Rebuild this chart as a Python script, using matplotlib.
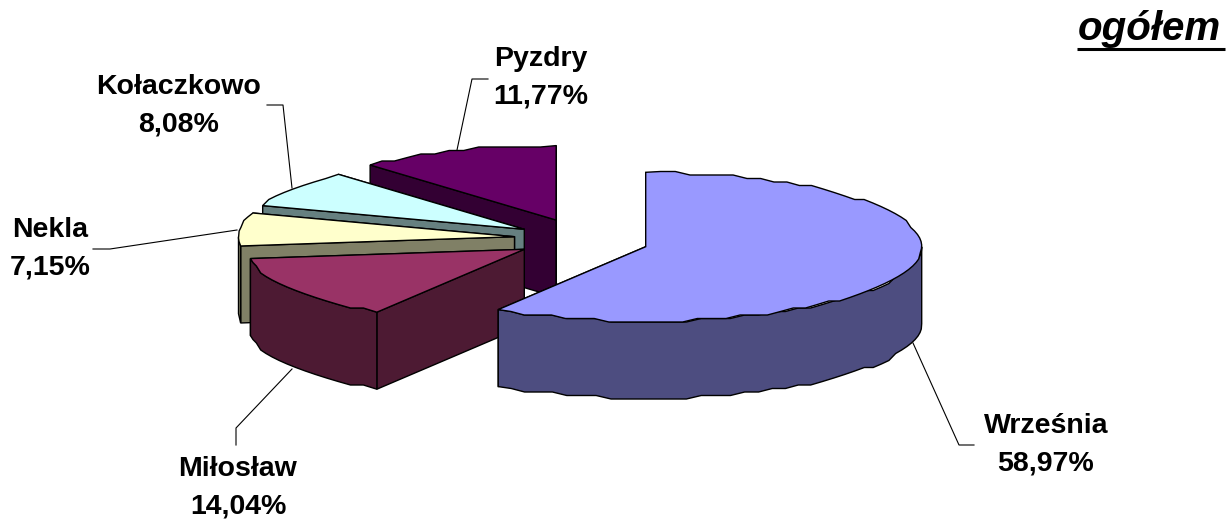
import numpy as np
import matplotlib.pyplot as plt
from matplotlib.patches import Polygon

plt.rcParams['font.family'] = ['Liberation Sans', 'DejaVu Sans']

# Data
names = ["Września", "Miłosław", "Nekla", "Kołaczkowo", "Pyzdry"]
shares = [58.97, 14.04, 7.15, 8.08, 11.77]
labels = ["58,97%", "14,04%", "7,15%", "8,08%", "11,77%"]
top_colors = ["#9999FF", "#993366", "#FFFFCC", "#CCFFFF", "#660066"]
side_colors = ["#4D4D80", "#4D1A33", "#808066", "#668080", "#330033"]

# Layout in pixels of the picture
apex_x = [645.7, 524.3, 514.5, 524.3, 556]
apex_y = [246.7, 249.3, 236.7, 229.3, 220]
rx, ry, depth = 276, 74.4, 77
label_x = [1046, 238, 50, 179, 541]
label_y = [444.5, 487.5, 248.5, 105.5, 78]
leaders = [[(913, 343), (959, 445), (974, 445)],
           [(292, 369), (236, 428), (236, 445)],
           [(237, 230), (110, 249), (93, 249)],
           [(292, 188), (283, 105), (267, 105)],
           [(457, 150), (472, 79), (488, 79)]]

edges = np.cumsum([0] + shares) / 100 * 2 * np.pi


def rim(cx, cy, a0, a1):
    # stepped outline, the rim of the original is rough
    n = max(int((a1 - a0) / np.radians(3)), 2)
    a = np.linspace(a0, a1, n)
    x = cx + rx * np.sin(a)
    y = cy - ry * np.cos(a)
    y[1:-1] = np.round(y[1:-1] / 3.5) * 3.5
    return np.column_stack([x, y])


fig = plt.figure(figsize=(12.26, 5.2), dpi=100)
ax = fig.add_axes([0, 0, 1, 1])
ax.set_xlim(0, 1226)
ax.set_ylim(520, 0)
ax.axis("off")

# back slices first, Września last
for i in [4, 3, 2, 1, 0]:
    cx, cy = apex_x[i], apex_y[i]
    a0, a1 = edges[i], edges[i + 1]
    top = rim(cx, cy, a0, a1)
    apex = np.array([cx, cy])
    down = np.array([0, depth])

    # flat cut faces
    for p in [top[-1], top[0]]:
        face = [apex, p, p + down, apex + down]
        ax.add_patch(Polygon(face, fc=side_colors[i], ec="black", lw=1, zorder=i * -3 + 20))

    # outer wall, only the part turned to the viewer
    lo, hi = max(a0, np.pi / 2), min(a1, 3 * np.pi / 2)
    if hi > lo:
        wall = rim(cx, cy, lo, hi)
        ax.add_patch(Polygon(np.vstack([wall, (wall + down)[::-1]]), fc=side_colors[i],
                             ec="black", lw=1, zorder=i * -3 + 21))

    ax.add_patch(Polygon(np.vstack([apex, top]), fc=top_colors[i], ec="black", lw=1,
                         zorder=i * -3 + 22))

for pts in leaders:
    ax.plot(*zip(*pts), color="black", lw=0.8, zorder=30)

for x, y, n, l in zip(label_x, label_y, names, labels):
    ax.text(x, y, n + "\n" + l, ha="center", va="center", fontsize=20.5, fontweight="bold",
            linespacing=1.58, color="black")

ax.text(1149, 40, "ogółem", ha="center", va="baseline", fontsize=29, fontweight="bold",
        style="italic", color="black")
ax.plot([1077, 1225], [48.7, 48.7], color="black", lw=2.2, solid_capstyle="butt")

fig.savefig("out.png", dpi=100)
